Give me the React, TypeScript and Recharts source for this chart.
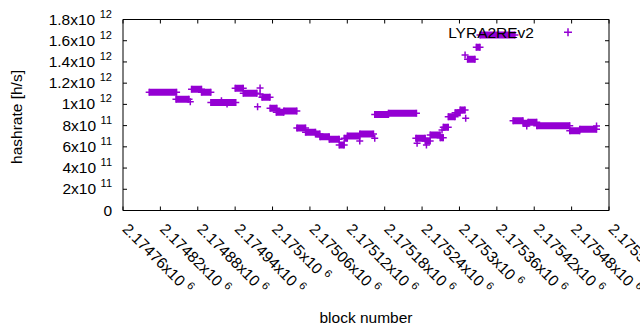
import React from 'react';
import { ComposedChart, Line, Scatter, XAxis, YAxis, Legend } from 'recharts';

// Flat runs of the hashrate estimate (block start, block end, value)
const runStart = [
  2174802, 2174845, 2174870, 2174886, 2174901, 2174940, 2174953, 2174983, 2174996, 2175006,
  2175018, 2175039, 2175053, 2175069, 2175076, 2175091, 2175107, 2175115, 2175120, 2175140,
  2175164, 2175186, 2175230, 2175245, 2175253, 2175269, 2175274, 2175282, 2175293, 2175301,
  2175313, 2175327, 2175333, 2175386, 2175402, 2175410, 2175424, 2175477, 2175493,
];
const runEnd = [
  2174846, 2174866, 2174886, 2174901, 2174941, 2174953, 2174975, 2174996, 2175007, 2175018,
  2175039, 2175053, 2175069, 2175076, 2175091, 2175107, 2175115, 2175120, 2175140, 2175162,
  2175186, 2175231, 2175245, 2175253, 2175269, 2175274, 2175282, 2175293, 2175301, 2175309,
  2175325, 2175333, 2175389, 2175402, 2175410, 2175424, 2175477, 2175493, 2175520,
];
const runValue = [
  1.114e12, 1.048e12, 1.142e12, 1.114e12, 1.018e12, 1.152e12, 1.105e12, 1.067e12, 0.963e12, 0.925e12,
  0.938e12, 0.777e12, 0.737e12, 0.721e12, 0.695e12, 0.671e12, 0.617e12, 0.68e12, 0.702e12, 0.721e12,
  0.905e12, 0.916e12, 0.68e12, 0.655e12, 0.712e12, 0.686e12, 0.784e12, 0.884e12, 0.922e12, 0.947e12,
  1.425e12, 1.538e12, 1.654e12, 0.846e12, 0.822e12, 0.831e12, 0.799e12, 0.752e12, 0.765e12,
];

// Isolated points
const outlierBlock = [
  2174868, 2174918, 2174927, 2174976, 2174980, 2174980, 2175140, 2175164, 2175232, 2175247,
  2175272, 2175310, 2175309, 2175408, 2175520,
];
const outlierValue = [
  1.025e12, 1.035e12, 1.004e12, 0.978e12, 1.154e12, 1.098e12, 0.655e12, 0.68e12, 0.633e12, 0.617e12,
  0.759e12, 0.869e12, 1.465e12, 0.796e12, 0.796e12,
];

const xTicks = [
  2174760, 2174820, 2174880, 2174940, 2175000, 2175060, 2175120, 2175180, 2175240, 2175300,
  2175360, 2175420, 2175480, 2175540,
];
const yTicks = [0, 2e11, 4e11, 6e11, 8e11, 1e12, 1.2e12, 1.4e12, 1.6e12, 1.8e12];

const seriesName = 'LYRA2REv2';
const xTitle = 'block number';
const yTitle = 'hashrate [h/s]';

const COLOR = '#9400D3';
const FONT = '"Liberation Sans", Arial, sans-serif';
const FS = 15.5;

const runLine: { b: number; v: number | null }[] = runStart.flatMap((s, i) => [
  { b: s, v: runValue[i] },
  { b: runEnd[i], v: runValue[i] },
  { b: runEnd[i], v: null },
]);

const points = [
  ...runStart.map((s, i) => ({ b: s, v: runValue[i] })),
  ...runEnd.map((e, i) => ({ b: e, v: runValue[i] })),
  ...outlierBlock.map((b, i) => ({ b, v: outlierValue[i] })),
];

function splitExp(v: number): { m: string; e: number | null } {
  if (v === 0) return { m: '0', e: null };
  const e = Math.floor(Math.log10(v) + 1e-9);
  const m = v / Math.pow(10, e);
  return { m: String(parseFloat(m.toFixed(6))), e };
}

const YTick = (props: any) => {
  const { x, y, payload } = props;
  const { m, e } = splitExp(payload.value);
  return (
    <text x={x} y={y + 5} textAnchor="end" fontSize={FS} fill="#000" fontFamily={FONT}>
      {e === null ? (
        m
      ) : (
        <>
          <tspan>{m}x10</tspan>
          <tspan dx={4.5} dy={-7} fontSize={11}>{e}</tspan>
        </>
      )}
    </text>
  );
};

const XTick = (props: any) => {
  const { x, y, payload } = props;
  const { m, e } = splitExp(payload.value);
  const tx = x - 1.5;
  return (
    <text x={tx} y={y} transform={`rotate(45 ${tx} ${y})`} textAnchor="start" fontSize={FS} fill="#000" fontFamily={FONT}>
      <tspan>{m}x10</tspan>
      <tspan dx={4.5} dy={-6} fontSize={11}>{e}</tspan>
    </text>
  );
};

const NoTick = () => <g />;

const Plus = (props: any) => {
  const { cx, cy } = props;
  if (cx == null || cy == null) return <g />;
  return <path d={`M${cx - 3.5},${cy}h7M${cx},${cy - 3.5}v7`} stroke={COLOR} strokeWidth={1.5} fill="none" />;
};

const LegendBox = () => (
  <svg width={160} height={24} style={{ display: 'block' }}>
    <text x={104} y={17.5} textAnchor="end" fontSize={FS} fill="#000" fontFamily={FONT}>{seriesName}</text>
    <path d="M134,12.3h8M138,8.3v8" stroke={COLOR} strokeWidth={1.5} fill="none" />
  </svg>
);

const YTitle = (props: any) => {
  const vb = props.viewBox || { x: 0, y: 19.5, width: 123, height: 191 };
  const cx = vb.x + 22;
  const cy = vb.y + vb.height / 2 + 2;
  return (
    <text x={cx} y={cy} transform={`rotate(-90 ${cx} ${cy})`} textAnchor="middle" fontSize={FS} fill="#000" fontFamily={FONT}>
      {yTitle}
    </text>
  );
};

const XTitle = (props: any) => {
  const vb = props.viewBox || { x: 123, y: 210.5, width: 486, height: 119.5 };
  return (
    <text x={vb.x + vb.width / 2} y={vb.y + vb.height - 7.5} textAnchor="middle" fontSize={FS} fill="#000" fontFamily={FONT}>
      {xTitle}
    </text>
  );
};

export default function App() {
  return (
    <div style={{ position: 'absolute', left: 0, top: 0, width: 640, height: 330, background: '#fff' }}>
      <ComposedChart width={640} height={330} margin={{ top: 0, right: 0, bottom: 0, left: 0 }} style={{ fontFamily: FONT }}>
        <XAxis
          xAxisId="b"
          dataKey="b"
          type="number"
          domain={[2174760, 2175540]}
          allowDataOverflow
          ticks={xTicks}
          interval={0}
          height={119.5}
          tickSize={-4}
          tickMargin={23.5}
          stroke="#000"
          tick={<XTick />}
          label={<XTitle />}
        />
        <XAxis
          xAxisId="t"
          orientation="top"
          dataKey="b"
          type="number"
          domain={[2174760, 2175540]}
          allowDataOverflow
          ticks={xTicks}
          interval={0}
          height={19.5}
          tickSize={-4}
          stroke="#000"
          tick={<NoTick />}
        />
        <YAxis
          yAxisId="l"
          dataKey="v"
          type="number"
          domain={[0, 1.8e12]}
          allowDataOverflow
          ticks={yTicks}
          interval={0}
          width={123}
          tickSize={-4}
          tickMargin={15}
          stroke="#000"
          tick={<YTick />}
          label={<YTitle />}
        />
        <YAxis
          yAxisId="r"
          orientation="right"
          dataKey="v"
          type="number"
          domain={[0, 1.8e12]}
          allowDataOverflow
          ticks={yTicks}
          interval={0}
          width={31}
          tickSize={-4}
          stroke="#000"
          tick={<NoTick />}
        />
        <Legend
          layout="vertical"
          align="center"
          verticalAlign="middle"
          wrapperStyle={{ left: 430, top: 20, width: 160, height: 24 }}
          content={<LegendBox />}
        />
        <Line
          xAxisId="b"
          yAxisId="l"
          data={runLine}
          dataKey="v"
          name={seriesName}
          stroke={COLOR}
          strokeWidth={7}
          strokeLinecap="butt"
          strokeLinejoin="miter"
          dot={false}
          activeDot={false}
          connectNulls={false}
          isAnimationActive={false}
          legendType="none"
        />
        <Scatter
          xAxisId="b"
          yAxisId="l"
          data={points}
          dataKey="v"
          name={seriesName}
          fill={COLOR}
          shape={<Plus />}
          isAnimationActive={false}
        />
      </ComposedChart>
    </div>
  );
}
